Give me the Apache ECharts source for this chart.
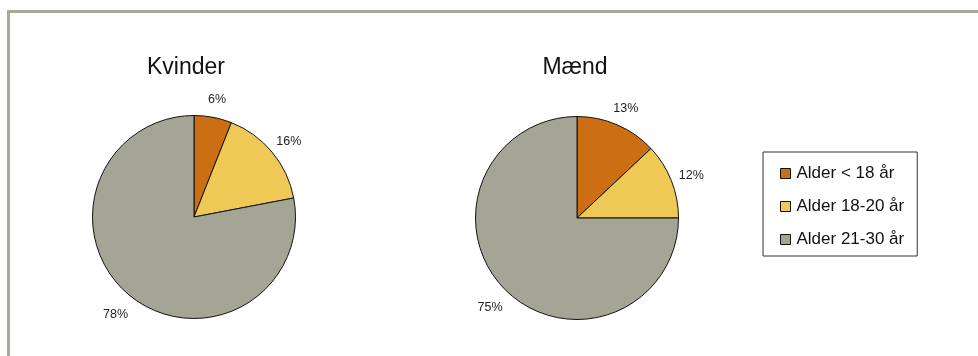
<!DOCTYPE html>
<html>
<head>
<meta charset="utf-8">
<script src="https://cdn.jsdelivr.net/npm/echarts@6/dist/echarts.min.js"></script>
<style>
html,body{margin:0;padding:0;background:#fff;}
#chart{width:978px;height:356px;}
</style>
</head>
<body>
<div id="chart"></div>
<script>
const categories = ['Alder < 18 år', 'Alder 18-20 år', 'Alder 21-30 år'];
const kvinderValues = [6, 16, 78];
const maendValues = [13, 12, 75];
const chartTitles = ['Kvinder', 'Mænd'];
const colors = ['#CC6E14', '#EEC955', '#A5A596'];

const FONT = '"Liberation Sans", Arial, Helvetica, sans-serif';

function pieData(vals) {
  return categories.map((c, i) => ({ name: c, value: vals[i] }));
}

function mainPie(vals, center) {
  return {
    type: 'pie',
    center: center,
    radius: 101.5,
    startAngle: 90,
    clockwise: true,
    silent: true,
    data: pieData(vals),
    label: { show: false },
    labelLine: { show: false },
    itemStyle: { borderColor: '#111', borderWidth: 1 },
    emphasis: { disabled: true }
  };
}

function labelRing(vals, center) {
  return {
    type: 'pie',
    center: center,
    radius: [108, 132],
    startAngle: 90,
    clockwise: true,
    silent: true,
    legendHoverLink: false,
    data: pieData(vals),
    itemStyle: { color: 'rgba(0,0,0,0)', borderWidth: 0 },
    label: {
      show: true,
      position: 'inside',
      formatter: '{c}%',
      color: '#222',
      fontSize: 12.5,
      fontFamily: FONT,
      offset: [0, 3]
    },
    labelLine: { show: false },
    emphasis: { disabled: true }
  };
}

const chart = echarts.init(document.getElementById('chart'), null, { renderer: 'canvas' });
chart.setOption({
  animation: false,
  color: colors,
  title: [
    { text: chartTitles[0], left: 186, top: 56, textAlign: 'center', padding: 0,
      textStyle: { fontFamily: FONT, fontSize: 23, fontWeight: 'normal', color: '#111' } },
    { text: chartTitles[1], left: 575, top: 56, textAlign: 'center', padding: 0,
      textStyle: { fontFamily: FONT, fontSize: 23, fontWeight: 'normal', color: '#111' } }
  ],
  legend: {
    orient: 'vertical',
    left: 763,
    top: 152,
    data: categories,
    icon: 'rect',
    itemWidth: 10,
    itemHeight: 10,
    itemGap: 16,
    padding: [13, 13, 8, 17],
    borderColor: '#333',
    borderWidth: 1,
    selectedMode: false,
    itemStyle: { borderColor: '#111', borderWidth: 1 },
    textStyle: { fontFamily: FONT, fontSize: 17, color: '#111', lineHeight: 17, padding: [0, 0, 0, 1] }
  },
  graphic: [
    { type: 'rect', shape: { x: 7, y: 10, width: 971, height: 3 }, style: { fill: '#a8a89a' }, silent: true },
    { type: 'rect', shape: { x: 7, y: 10, width: 3, height: 346 }, style: { fill: '#a8a89a' }, silent: true }
  ],
  series: [
    mainPie(kvinderValues, [194, 217]),
    mainPie(maendValues, [577, 218]),
    labelRing(kvinderValues, [194, 217]),
    labelRing(maendValues, [577, 218])
  ]
});
</script>
</body>
</html>
